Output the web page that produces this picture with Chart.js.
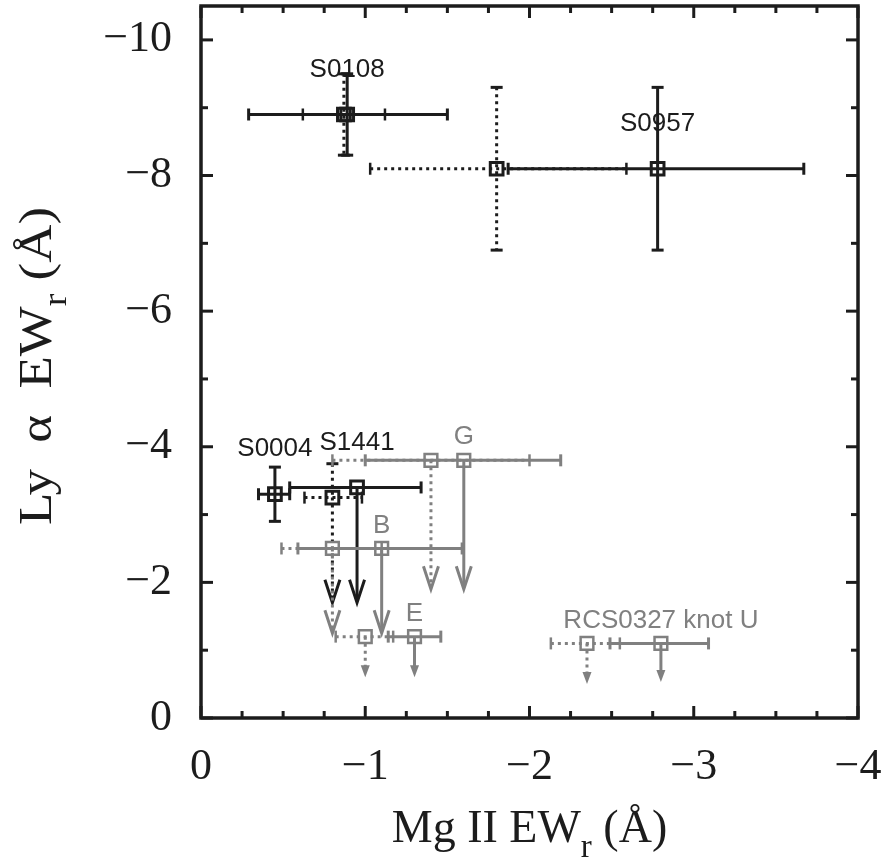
<!DOCTYPE html>
<html>
<head>
<meta charset="utf-8">
<script src="https://cdn.jsdelivr.net/npm/chart.js@4/dist/chart.umd.min.js"></script>
<style>
  html, body { margin: 0; padding: 0; background: #fff; overflow: hidden; }
  /* the point overflow pads the chart top by 12px; shift the canvas up to compensate */
  #chart { display: block; margin-top: -6px; }
</style>
</head>
<body>
<canvas id="chart" width="884" height="871"></canvas>
<script>
// objects, in the order they are labelled
const names = ['S0108', 'S0957', 'S0004', 'S1441', 'G', 'B', 'E', 'RCS0327 knot U'];
const isGrey = [false, false, false, false, true, true, true, true];

// solid-line measurements (Mg II EW on x, Ly alpha EW on y)
const solidX   = [-0.89, -2.78, -0.45, -0.95, -1.60, -1.10, -1.30, -2.80];
const solidY   = [-8.9, -8.1, -3.3, -3.4, -3.8, -2.5, -1.2, -1.1];
const solidXLo = [-0.29, -1.87, -0.35, -0.54, -1.00, -0.59, -1.14, -2.49];
const solidXHi = [-1.50, -3.67, -0.54, -1.34, -2.19, -1.59, -1.46, -3.09];
const solidYLo = [-8.3, -6.9, -2.9, null, null, null, null, null];
const solidYHi = [-9.5, -9.3, -3.7, null, null, null, null, null];
const solidLim = [null, null, null, -1.7, -1.9, -1.25, -0.6, -0.53];

// dotted-line measurements
const dotX   = [-0.87, -1.80, -0.80, null, -1.40, -0.80, -1.00, -2.35];
const dotY   = [-8.9, -8.1, -3.25, null, -3.8, -2.5, -1.2, -1.1];
const dotXLo = [-0.62, -1.03, -0.63, null, -0.80, -0.49, -0.82, -2.13];
const dotXHi = [-1.12, -2.59, -0.98, null, -2.00, -1.10, -1.17, -2.55];
const dotYLo = [-8.3, -6.9, null, null, null, null, null, null];
const dotYHi = [-9.5, -9.3, -3.75, null, null, null, null, null];
const dotLim = [null, null, -1.7, null, -1.9, -1.25, -0.6, -0.5];

// axes
const xTicks = [-4, -3, -2, -1, 0];
const yTicks = [-10, -8, -6, -4, -2, 0];

const BLACK = '#1c1c1c';
const GREY = '#808080';
const SERIF = '"Liberation Serif", "Times New Roman", serif';
const SANS = '"Liberation Sans", Arial, sans-serif';

function fmt(v) {
  return v === 0 ? '0' : '\u2212' + Math.abs(v);
}

// build scatter points for one style and colour
function points(X, Y, grey) {
  const out = [];
  for (let i = 0; i < X.length; i++) {
    if (X[i] === null || isGrey[i] !== grey) continue;
    out.push({x: X[i], y: Y[i]});
  }
  return out;
}

function line(ctx, x1, y1, x2, y2) {
  ctx.beginPath();
  ctx.moveTo(x1, y1);
  ctx.lineTo(x2, y2);
  ctx.stroke();
}

// error bars and upper-limit arrows, drawn under the squares
const errorBars = {
  id: 'errorBars',
  beforeDatasetsDraw(chart) {
    const ctx = chart.ctx;
    const px = v => chart.scales.x.getPixelForValue(v);
    const py = v => chart.scales.y.getPixelForValue(v);

    function drawSet(X, Y, XLo, XHi, YLo, YHi, Lim, dotted) {
      for (let i = 0; i < X.length; i++) {
        if (X[i] === null) continue;
        ctx.save();
        ctx.strokeStyle = isGrey[i] ? GREY : BLACK;
        ctx.fillStyle = isGrey[i] ? GREY : BLACK;
        ctx.lineWidth = 3;
        ctx.lineCap = 'butt';
        const dash = dotted ? [3, 4] : [];
        const cx = px(X[i]), cy = py(Y[i]);

        // horizontal error bar
        ctx.setLineDash(dash);
        line(ctx, px(XLo[i]), cy, px(XHi[i]), cy);
        ctx.setLineDash([]);
        ctx.lineWidth = dotted ? 2.5 : 3;
        line(ctx, px(XLo[i]), cy - 6, px(XLo[i]), cy + 6);
        line(ctx, px(XHi[i]), cy - 6, px(XHi[i]), cy + 6);
        ctx.lineWidth = 3;

        // vertical error bar
        if (YHi[i] !== null) {
          const top = py(YHi[i]);
          const bot = YLo[i] !== null ? py(YLo[i]) : cy;
          ctx.setLineDash(dash);
          line(ctx, cx, top, cx, bot);
          ctx.setLineDash([]);
          line(ctx, cx - 6, top, cx + 6, top);
          if (YLo[i] !== null) line(ctx, cx - 6, bot, cx + 6, bot);
        }

        // limit arrow pointing towards zero
        if (Lim[i] !== null) {
          const tip = py(Lim[i]);
          const len = tip - cy;
          ctx.setLineDash(dash);
          if (len > 60) {
            line(ctx, cx, cy, cx, tip - 2);
            ctx.setLineDash([]);
            ctx.beginPath();
            ctx.moveTo(cx - 7.5, tip - 23);
            ctx.lineTo(cx, tip);
            ctx.lineTo(cx + 7.5, tip - 23);
            ctx.stroke();
          } else {
            line(ctx, cx, cy, cx, tip - 8);
            ctx.setLineDash([]);
            ctx.beginPath();
            ctx.moveTo(cx - 4.5, tip - 12);
            ctx.lineTo(cx, tip);
            ctx.lineTo(cx + 4.5, tip - 12);
            ctx.closePath();
            ctx.fill();
          }
        }
        ctx.restore();
      }
    }

    drawSet(dotX, dotY, dotXLo, dotXHi, dotYLo, dotYHi, dotLim, true);
    drawSet(solidX, solidY, solidXLo, solidXHi, solidYLo, solidYHi, solidLim, false);
  }
};

// object names above the solid squares
const nameLabels = {
  id: 'nameLabels',
  afterDatasetsDraw(chart) {
    const ctx = chart.ctx;
    ctx.save();
    ctx.font = '26px ' + SANS;
    ctx.textAlign = 'center';
    ctx.textBaseline = 'middle';
    for (let i = 0; i < names.length; i++) {
      const x = chart.scales.x.getPixelForValue(solidX[i]);
      const y = chart.scales.y.getPixelForValue(solidY[i]);
      ctx.fillStyle = isGrey[i] ? GREY : BLACK;
      ctx.fillText(names[i], x, y - (isGrey[i] ? 23 : 45));
    }
    ctx.restore();
  }
};

// box, inward ticks on all four sides, axis titles with subscripts
const frame = {
  id: 'frame',
  afterDraw(chart) {
    const ctx = chart.ctx;
    const a = chart.chartArea;
    const xs = chart.scales.x, ys = chart.scales.y;
    ctx.save();
    ctx.strokeStyle = BLACK;
    ctx.lineWidth = 3;
    for (let v = -4; v <= 0.001; v += 0.25) {
      const x = xs.getPixelForValue(v);
      const len = Math.abs(v - Math.round(v)) < 0.01 ? 12 : 7;
      line(ctx, x, a.bottom, x, a.bottom - len);
      line(ctx, x, a.top, x, a.top + len);
    }
    for (let v = -10; v <= 0; v += 1) {
      const y = ys.getPixelForValue(v);
      const len = v % 2 === 0 ? 12 : 7;
      line(ctx, a.left, y, a.left + len, y);
      line(ctx, a.right, y, a.right - len, y);
    }
    ctx.lineWidth = 3.5;
    ctx.strokeRect(a.left, a.top, a.right - a.left, a.bottom - a.top);

    // axis titles
    ctx.fillStyle = BLACK;
    ctx.textBaseline = 'alphabetic';
    function title(pre, post, cx, baseline) {
      ctx.font = '46px ' + SERIF;
      const w1 = ctx.measureText(pre).width;
      const w3 = ctx.measureText(post).width;
      ctx.font = '33px ' + SERIF;
      const w2 = ctx.measureText('r').width;
      let x = cx - (w1 + w2 + w3) / 2;
      ctx.textAlign = 'left';
      ctx.font = '46px ' + SERIF;
      ctx.fillText(pre, x, baseline);
      x += w1;
      ctx.font = '33px ' + SERIF;
      ctx.fillText('r', x, baseline + 15);
      x += w2;
      ctx.font = '46px ' + SERIF;
      ctx.fillText(post, x, baseline);
    }
    title('Mg II EW', ' (\u00C5)', (a.left + a.right) / 2, a.bottom + 124);
    ctx.translate(51, (a.top + a.bottom) / 2 + 4);
    ctx.rotate(-Math.PI / 2);
    ctx.scale(1.15, 1);
    title('Ly\u2002\u03B1\u2002EW', ' (\u00C5)', 0, 0);
    ctx.restore();
  }
};

const square = {
  pointStyle: 'rect',
  pointRadius: 9,
  pointHoverRadius: 9,
  backgroundColor: 'rgba(0,0,0,0)',
  showLine: false
};

new Chart(document.getElementById('chart'), {
  type: 'scatter',
  data: {
    datasets: [
      Object.assign({label: 'grey dotted', data: points(dotX, dotY, true), borderColor: GREY, borderWidth: 2.5}, square),
      Object.assign({label: 'grey solid', data: points(solidX, solidY, true), borderColor: GREY, borderWidth: 2.5}, square),
      Object.assign({label: 'black dotted', data: points(dotX, dotY, false), borderColor: BLACK, borderWidth: 3}, square),
      Object.assign({label: 'black solid', data: points(solidX, solidY, false), borderColor: BLACK, borderWidth: 3}, square)
    ]
  },
  options: {
    responsive: false,
    animation: false,
    devicePixelRatio: 1,
    layout: {padding: {left: 0, right: 26, top: 1, bottom: 0}},
    plugins: {legend: {display: false}, tooltip: {enabled: false}},
    scales: {
      x: {
        type: 'linear',
        min: -4,
        max: 0,
        reverse: true,
        grid: {display: false, drawTicks: false},
        border: {display: false},
        ticks: {
          font: {family: SERIF, size: 44},
          color: BLACK,
          padding: 23,
          maxRotation: 0,
          autoSkip: false,
          callback: fmt
        },
        afterBuildTicks: s => { s.ticks = xTicks.map(v => ({value: v})); },
        afterFit: s => { s.height = 147; s.paddingLeft = 0; s.paddingRight = 0; }
      },
      y: {
        type: 'linear',
        min: -10.5,
        max: 0,
        reverse: true,
        grid: {display: false, drawTicks: false},
        border: {display: false},
        ticks: {
          font: {family: SERIF, size: 44},
          color: BLACK,
          padding: 29,
          autoSkip: false,
          callback: fmt
        },
        afterBuildTicks: s => { s.ticks = yTicks.map(v => ({value: v})); },
        afterFit: s => { s.width = 201; s.paddingTop = 0; s.paddingBottom = 0; }
      }
    }
  },
  plugins: [errorBars, nameLabels, frame]
});
</script>
</body>
</html>
